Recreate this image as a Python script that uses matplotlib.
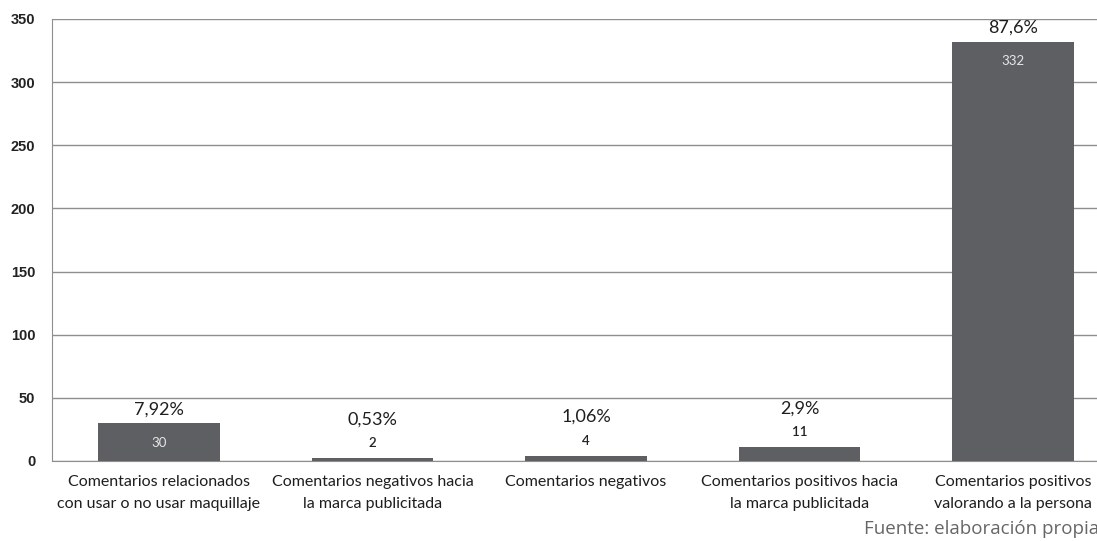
import matplotlib
matplotlib.use("Agg")
import matplotlib.pyplot as plt

categories = [
    "Comentarios relacionados\ncon usar o no usar maquillaje",
    "Comentarios negativos hacia\nla marca publicitada",
    "Comentarios negativos",
    "Comentarios positivos hacia\nla marca publicitada",
    "Comentarios positivos\nvalorando a la persona",
]
counts = [30, 2, 4, 11, 332]
percents = ["7,92%", "0,53%", "1,06%", "2,9%", "87,6%"]
yticks = [0, 50, 100, 150, 200, 250, 300, 350]

bar_color = "#5e5f63"
grid_color = "#8e8e8e"

fig = plt.figure(figsize=(10.97, 5.41), dpi=100)
ax = fig.add_axes([52 / 1097, 1 - 461 / 541, 1068 / 1097, 442 / 541])

x = list(range(len(categories)))
ax.bar(x, counts, width=0.57, color=bar_color, zorder=3)

ax.set_xlim(-0.5, len(categories) - 0.5)
ax.set_ylim(0, 350)
ax.set_yticks(yticks)
ax.set_yticklabels([str(t) for t in yticks], fontfamily="Liberation Sans",
                   fontweight="bold", fontsize=10.5, color="#222222")
ax.yaxis.grid(True, color=grid_color, linewidth=1, zorder=0)
ax.tick_params(axis="y", length=0, pad=12)
ax.tick_params(axis="x", length=0, pad=10)
ax.set_xticks(x)
ax.set_xticklabels(categories, fontfamily="Lato", fontsize=11.5, color="#1e1e1e",
                   linespacing=1.75)

for side in ["top", "right"]:
    ax.spines[side].set_visible(False)
ax.spines["left"].set_color(grid_color)
ax.spines["bottom"].set_color(grid_color)

for i, (c, p) in enumerate(zip(counts, percents)):
    if c > 20:
        ax.annotate(str(c), (i, c), xytext=(0, -14), textcoords="offset points",
                    ha="center", va="center", fontsize=9.5, color="#e6e6e6",
                    fontfamily="Lato", zorder=4)
        ax.annotate(p, (i, c), xytext=(0, 10), textcoords="offset points",
                    ha="center", va="center", fontsize=13, color="#1e1e1e",
                    fontfamily="Lato")
    else:
        ax.annotate(str(c), (i, c), xytext=(0, 11), textcoords="offset points",
                    ha="center", va="center", fontsize=9.5, color="#222222",
                    fontfamily="Lato", fontweight="semibold")
        ax.annotate(p, (i, c), xytext=(0, 28), textcoords="offset points",
                    ha="center", va="center", fontsize=13, color="#1e1e1e",
                    fontfamily="Lato")

fig.text(1099 / 1097, 1 - 529 / 541, "Fuente: elaboración propia",
         ha="right", va="center", fontsize=13.5, color="#666666",
         fontfamily="Open Sans")

fig.savefig("out.png", dpi=100)
